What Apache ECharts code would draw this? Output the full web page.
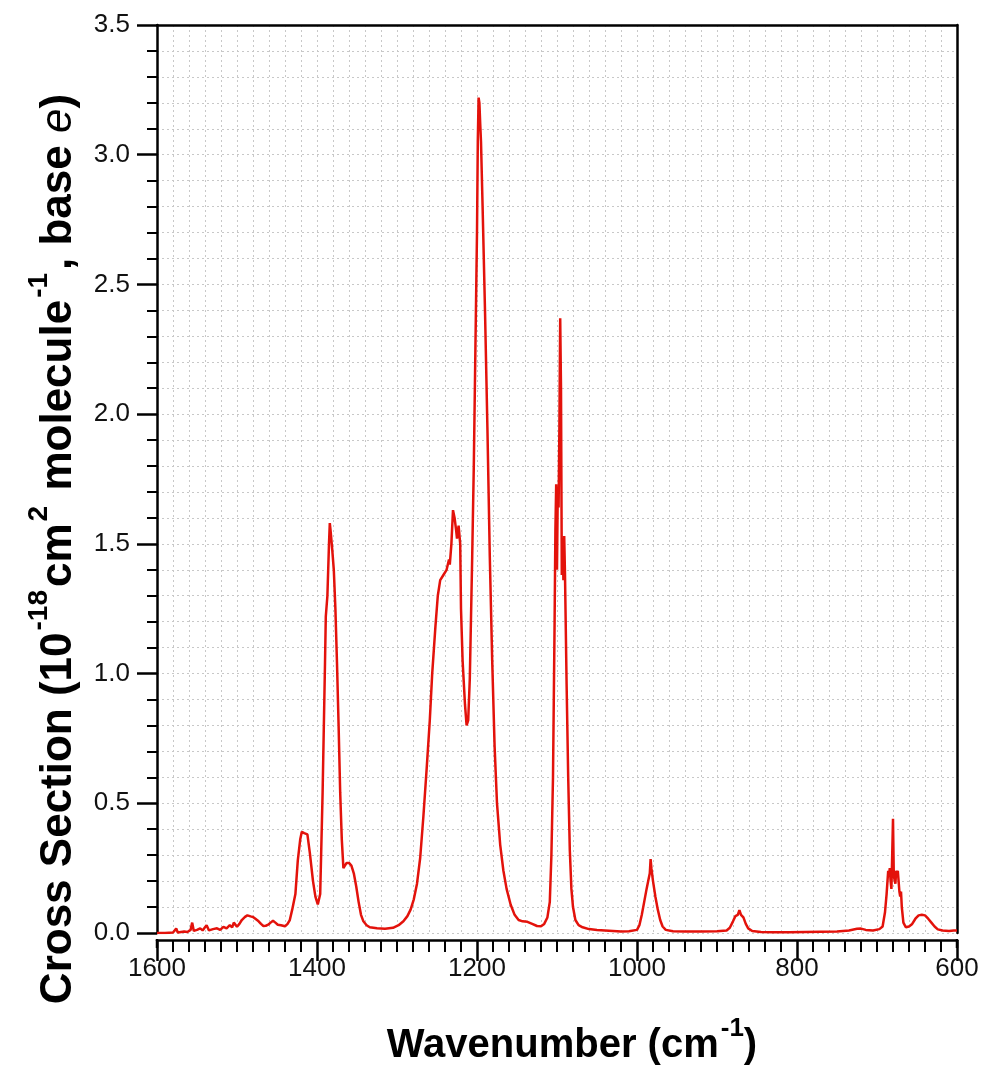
<!DOCTYPE html>
<html>
<head>
<meta charset="utf-8">
<script src="https://cdn.jsdelivr.net/npm/echarts@6/dist/echarts.min.js"></script>
<style>
html,body{margin:0;padding:0;background:#fff;}
#chart{width:982px;height:1071px;}
</style>
</head>
<body>
<div id="chart"></div>
<script>
// Wavenumber (cm^-1)
const wavenumber = [
1600,1590,1580,1576,1574,1566,1562,1558,1556,1554,1550,1546,1543,1540,1538,1535,1530,1525,1521,1517,
1513,1509,1506,1504,1500,1497,1494,1490,1487,1483,1480,1477,1473,1470,1467,1464,1461,1458,1455,1452,
1449,1445,1440,1437,1434,1431,1427,1424,1421,1419,1416,1412,1409,1405,1402,1399,1396,1393,1390,1389,
1387,1385,1384,1383,1381,1379,1377,1375,1373,1371,1369,1367,1365,1363,1360,1357,1354,1351,1348,1345,
1342,1338,1334,1325,1315,1305,1298,1292,1287,1283,1279,1275,1271,1267,1263,1259,1256,1252,1249,1246,
1242,1238,1235,1234,1232,1230,1228,1226,1225,1223,1221,1220,1218,1215,1213,1211,1209,1206,1204,1202,
1200,1199,1198,1197,1196,1195,1193,1190,1187,1184,1181,1178,1175,1171,1167,1163,1158,1153,1148,1143,
1137,1131,1125,1120,1116,1112,1109,1107,1105,1103,1102,1101,1100,1099,1098,1097,1096,1095,1094,1093,
1092,1091,1090,1088,1086,1084,1082,1080,1077,1073,1068,1060,1050,1040,1030,1020,1010,1000,997,994,
991,988,986,984,983,982,980,977,974,971,968,964,955,940,920,900,888,884,880,877,
874,872,870,867,864,861,856,845,830,810,790,770,750,735,725,720,714,705,697,693,
690,688,686,685,684,683,682,681,680,679,677,676,675,674,673,672,671,670,669,667,
664,660,656,652,648,644,640,636,632,628,624,618,610,604,600
];
// Cross section (1e-18 cm^2 molecule^-1, base e)
const crossSection = [
0.0,0.0,0.002,0.017,0.002,0.006,0.004,0.012,0.04,0.008,0.012,0.018,0.01,0.022,0.03,0.01,0.015,0.018,0.012,0.024,
0.018,0.03,0.022,0.04,0.024,0.035,0.05,0.062,0.068,0.064,0.062,0.055,0.045,0.035,0.027,0.028,0.032,0.04,0.047,0.04,
0.032,0.03,0.026,0.034,0.05,0.09,0.15,0.28,0.36,0.39,0.385,0.38,0.31,0.2,0.14,0.11,0.15,0.54,1.04,1.22,
1.30,1.50,1.58,1.55,1.48,1.40,1.25,1.04,0.80,0.54,0.36,0.25,0.25,0.27,0.27,0.26,0.23,0.18,0.12,0.07,
0.045,0.03,0.022,0.018,0.016,0.02,0.03,0.045,0.065,0.09,0.13,0.19,0.29,0.45,0.63,0.82,1.0,1.18,1.30,1.36,
1.38,1.40,1.44,1.42,1.50,1.63,1.60,1.55,1.52,1.57,1.50,1.25,1.05,0.88,0.80,0.82,0.98,1.45,1.80,2.25,
2.70,3.05,3.22,3.20,3.12,3.05,2.80,2.40,1.95,1.45,1.05,0.72,0.50,0.34,0.24,0.17,0.11,0.07,0.05,0.045,
0.043,0.035,0.027,0.026,0.035,0.06,0.12,0.30,0.60,1.20,1.55,1.73,1.40,1.72,1.64,1.95,2.37,2.10,1.38,1.52,
1.36,1.53,1.38,0.96,0.60,0.32,0.17,0.10,0.05,0.03,0.022,0.015,0.012,0.01,0.008,0.006,0.007,0.012,0.03,0.07,
0.12,0.17,0.20,0.23,0.285,0.25,0.20,0.14,0.09,0.05,0.025,0.012,0.007,0.006,0.006,0.007,0.01,0.02,0.045,0.065,
0.07,0.088,0.07,0.06,0.035,0.018,0.008,0.004,0.003,0.003,0.004,0.005,0.006,0.01,0.016,0.017,0.012,0.01,0.015,0.025,
0.08,0.15,0.24,0.22,0.25,0.20,0.17,0.30,0.44,0.22,0.19,0.24,0.22,0.24,0.20,0.16,0.14,0.16,0.10,0.04,
0.022,0.025,0.035,0.055,0.068,0.07,0.068,0.055,0.04,0.025,0.014,0.01,0.008,0.01,0.01
];
const xTicks = [1600, 1400, 1200, 1000, 800, 600];
const yTicks = [0.0, 0.5, 1.0, 1.5, 2.0, 2.5, 3.0, 3.5];

const seriesData = wavenumber.map((w, i) => [w, crossSection[i]]);

const FONT = "Arial, 'Liberation Sans', sans-serif";
const gridCol = '#c8c8c8';

const chart = echarts.init(document.getElementById('chart'), null, {renderer: 'canvas'});
const G = {left: 157, right: 25, top: 25, bottom: 131};

chart.setOption({
  backgroundColor: '#fff',
  animation: false,
  grid: {left: G.left, right: G.right, top: G.top, bottom: G.bottom, containLabel: false},
  xAxis: [{
    type: 'value', min: xTicks[xTicks.length - 1], max: xTicks[0], interval: 200, inverse: true,
    offset: 7,
    axisLine: {show: true, onZero: false, lineStyle: {color: '#000', width: 2.5}},
    axisTick: {show: true, inside: false, length: 21, lineStyle: {color: '#000', width: 2.5}},
    minorTick: {show: true, splitNumber: 10, length: 12, lineStyle: {color: '#000', width: 2}},
    splitLine: {show: true, lineStyle: {color: gridCol, type: [2, 3], width: 1}},
    minorSplitLine: {show: true, lineStyle: {color: gridCol, type: [2, 3], width: 1}},
    axisLabel: {margin: 16, fontSize: 26, color: '#111', fontFamily: FONT, formatter: v => String(v)},
    name: '{a|Wavenumber (cm}{s|-1}{a|)}',
    nameLocation: 'middle', nameGap: 76,
    nameTextStyle: {
      padding: [0, 0, 0, 30],
      rich: {
        a: {fontSize: 40, fontWeight: 'bold', fontFamily: FONT, color: '#000', lineHeight: 50, verticalAlign: 'bottom'},
        s: {fontSize: 26, fontWeight: 'bold', fontFamily: FONT, color: '#000', lineHeight: 50, verticalAlign: 'top', padding: [0, 0, 0, 2]}
      }
    }
  }, {
    type: 'value', position: 'top', min: xTicks[xTicks.length - 1], max: xTicks[0], inverse: true,
    axisLine: {show: true, onZero: false, lineStyle: {color: '#000', width: 2.5}},
    axisTick: {show: false}, axisLabel: {show: false}, splitLine: {show: false}
  }],
  yAxis: [{
    type: 'value', min: yTicks[0], max: yTicks[yTicks.length - 1], interval: 0.5,
    axisLine: {show: true, onZero: false, lineStyle: {color: '#000', width: 2.5}},
    axisTick: {show: true, inside: false, length: 20, lineStyle: {color: '#000', width: 2.5}},
    minorTick: {show: true, splitNumber: 5, length: 10, lineStyle: {color: '#000', width: 2}},
    splitLine: {show: true, lineStyle: {color: gridCol, type: [2, 3], width: 1}},
    minorSplitLine: {show: true, lineStyle: {color: gridCol, type: [2, 3], width: 1}},
    axisLabel: {margin: 27, fontSize: 26, color: '#111', fontFamily: FONT, formatter: v => v.toFixed(1)}
  }, {
    type: 'value', position: 'right', min: yTicks[0], max: yTicks[yTicks.length - 1],
    axisLine: {show: true, onZero: false, lineStyle: {color: '#000', width: 2.5}},
    axisTick: {show: false}, axisLabel: {show: false}, splitLine: {show: false}
  }],
  graphic: [
    {type: 'line', shape: {x1: G.left, y1: 1071 - G.bottom - 1, x2: G.left, y2: 1071 - G.bottom + 8}, style: {stroke: '#000', lineWidth: 2.5}},
    {type: 'line', shape: {x1: 982 - G.right, y1: 1071 - G.bottom - 1, x2: 982 - G.right, y2: 1071 - G.bottom + 8}, style: {stroke: '#000', lineWidth: 2.5}},
    {
      type: 'text', x: 53, y: 549, rotation: Math.PI / 2,
      style: {
        text: '{a|Cross Section (10}{s|-18}{a|cm}{s|2}{a| molecule}{s|-1}{a|, base }{i|e}{a|)}',
        align: 'center', verticalAlign: 'middle',
        rich: {
          a: {fontSize: 44, fontWeight: 'bold', fontFamily: FONT, fill: '#000', lineHeight: 55, verticalAlign: 'bottom'},
          s: {fontSize: 28, fontWeight: 'bold', fontFamily: FONT, fill: '#000', lineHeight: 55, verticalAlign: 'top', padding: [0, 3, 0, 2]},
          i: {fontSize: 44, fontWeight: 'normal', fontStyle: 'italic', fontFamily: FONT, fill: '#000', lineHeight: 55, verticalAlign: 'bottom'}
        }
      }
    }
  ],
  series: [{
    type: 'line', xAxisIndex: 0, yAxisIndex: 0,
    data: seriesData, showSymbol: false, smooth: false,
    lineStyle: {color: '#e3120b', width: 2.5},
    clip: true
  }]
});
</script>
</body>
</html>
